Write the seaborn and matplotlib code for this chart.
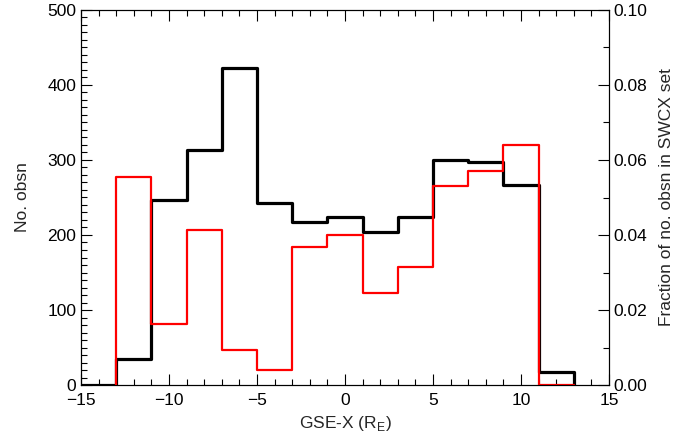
import seaborn as sns
import matplotlib.pyplot as plt
import matplotlib.transforms as mtransforms
import numpy as np
import pandas as pd
from matplotlib.ticker import MultipleLocator

# bin edges (GSE-X, R_E) and values per bin
edges_all = [-15, -13, -11, -9, -7, -5, -3, -1, 1, 3, 5, 7, 9, 11, 13]
counts_all = [0, 35, 247, 313, 423, 243, 217, 224, 204, 224, 300, 297, 266, 17]

edges_swcx = [-13, -11, -9, -7, -5, -3, -1, 1, 3, 5, 7, 9, 11, 13]
frac_swcx = [0.0556, 0.0163, 0.0413, 0.0093, 0.0040, 0.0369, 0.0400,
             0.0246, 0.0314, 0.0532, 0.0571, 0.0640, 0.0]

sns.set_style('ticks')
plt.rcParams['font.family'] = ['Liberation Sans', 'DejaVu Sans']
plt.rcParams['xtick.direction'] = 'in'
plt.rcParams['ytick.direction'] = 'in'

fig = plt.figure(figsize=(6.93, 4.37), dpi=100)
ax = fig.add_axes([81/693, 52/437, 528/693, 375/437])

# black: number of observations (steps, dropping to 0 at the last edge)
d1 = pd.DataFrame({'x': edges_all, 'y': counts_all + [0]})
sns.lineplot(data=d1, x='x', y='y', ax=ax, color='black', lw=2.3,
             drawstyle='steps-post', estimator=None, sort=False)
ax.set_xlim(-15, 15)
ax.set_ylim(0, 500)
ax.set_xlabel('GSE-X (R$_\\mathregular{E}$)', fontsize=12.5, labelpad=4)
ax.set_ylabel('No. obsn', fontsize=12.5, labelpad=12)
ax.xaxis.set_major_locator(MultipleLocator(5))
ax.xaxis.set_minor_locator(MultipleLocator(1))
ax.yaxis.set_major_locator(MultipleLocator(100))
ax.yaxis.set_minor_locator(MultipleLocator(10))
ax.tick_params(axis='x', which='both', top=True)
ax.tick_params(which='major', length=8, width=0.8, labelsize=12.5, colors='black')
ax.tick_params(which='minor', length=4, width=0.8, colors='black')
ax.tick_params(axis='x', pad=6)

# red: fraction in SWCX set, right axis
ax2 = ax.twinx()
d2 = pd.DataFrame({'x': [edges_swcx[0]] + edges_swcx,
                   'y': [0.0] + frac_swcx + [0.0]})
sns.lineplot(data=d2, x='x', y='y', ax=ax2, color='red', lw=1.6,
             drawstyle='steps-post', estimator=None, sort=False)
ax2.set_ylim(0, 0.10)
ax2.set_ylabel('Fraction of no. obsn in SWCX set', fontsize=12.5, labelpad=8)
ax2.yaxis.set_major_locator(MultipleLocator(0.02))
ax2.yaxis.set_minor_locator(MultipleLocator(0.01))
ax2.yaxis.set_major_formatter(plt.FormatStrFormatter('%.2f'))
ax2.tick_params(which='major', length=8, width=0.8, labelsize=12.5, colors='black')
ax2.tick_params(which='minor', length=4, width=0.8, colors='black')
ax2.set_xlim(-15, 15)

for a in (ax, ax2):
    for s in a.spines.values():
        s.set_linewidth(0.8)
        s.set_color('black')
        s.set_visible(True)

# end labels sit slightly inside the axis range, as in the original
fig.canvas.draw()
up = mtransforms.ScaledTranslation(0, 5/100, fig.dpi_scale_trans)
down = mtransforms.ScaledTranslation(0, -5/100, fig.dpi_scale_trans)
for a in (ax, ax2):
    labs = a.get_yticklabels()
    labs[0].set_transform(labs[0].get_transform() + up)
    labs[-1].set_transform(labs[-1].get_transform() + down)

fig.savefig('out.png', dpi=100)
